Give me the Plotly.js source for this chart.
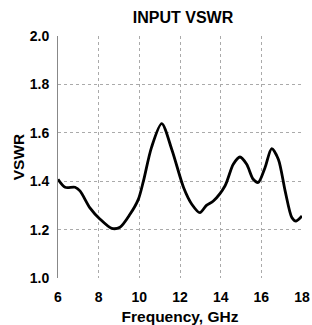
<!DOCTYPE html>
<html><head><meta charset="utf-8">
<script src="https://cdn.plot.ly/plotly-3.0.1.min.js"></script>
<style>html,body{margin:0;padding:0;background:#fff;}</style>
</head><body>
<div id="chart" style="width:312px;height:325px;"></div>
<script>
var freqGHz = [6.0, 6.35, 6.84, 7.08, 7.57, 8.07, 8.64, 9.05, 9.54, 9.95, 10.2, 10.6, 11.1, 11.6, 12.18, 12.58, 12.98, 13.3, 13.64, 14.21, 14.62, 14.95, 15.28, 15.6, 15.85, 16.18, 16.51, 16.84, 17.17, 17.5, 17.7, 18.0];
var vswr = [1.408, 1.375, 1.375, 1.36, 1.29, 1.243, 1.205, 1.21, 1.263, 1.325, 1.40, 1.54, 1.638, 1.53, 1.373, 1.305, 1.27, 1.30, 1.318, 1.38, 1.47, 1.50, 1.47, 1.408, 1.395, 1.456, 1.535, 1.49, 1.36, 1.25, 1.235, 1.256];
var xTicks = [6, 8, 10, 12, 14, 16, 18];
var yTicks = [1.0, 1.2, 1.4, 1.6, 1.8, 2.0];
var yTickText = ['1.0', '1.2', '1.4', '1.6', '1.8', '2.0'];

var fontFam = 'Liberation Sans, Arial, sans-serif';
Plotly.newPlot('chart', [{
  x: freqGHz, y: vswr, type: 'scatter', mode: 'lines',
  line: {color: '#000', width: 2.8, shape: 'spline', smoothing: 0.8},
  hoverinfo: 'skip'
}], {
  width: 312, height: 325,
  margin: {l: 58, r: 10, t: 36, b: 47},
  paper_bgcolor: '#fff', plot_bgcolor: '#fff',
  showlegend: false,
  title: {text: '<b>INPUT VSWR</b>', x: 183/312, xanchor: 'center', xref: 'container',
          y: 1 - 17.5/325, yanchor: 'middle', yref: 'container',
          font: {family: fontFam, size: 16, color: '#000'}},
  xaxis: {
    range: [6, 18], tickvals: xTicks, ticktext: xTicks.map(String),
    showgrid: true, gridcolor: '#aaa', griddash: 'dot', gridwidth: 1,
    zeroline: false, showline: false,
    ticks: 'outside', ticklen: 6, tickcolor: 'rgba(0,0,0,0)',
    tickfont: {family: fontFam, size: 14, color: '#000', weight: 'bold'},
    title: {text: '<b>Frequency, GHz</b>', standoff: 10, font: {family: fontFam, size: 15.5, color: '#000'}}
  },
  yaxis: {
    range: [1.0, 2.0], tickvals: yTicks, ticktext: yTickText,
    showgrid: true, gridcolor: '#aaa', griddash: 'dot', gridwidth: 1,
    zeroline: false, showline: true, linecolor: '#888', linewidth: 1,
    ticks: 'outside', ticklen: 5, tickcolor: 'rgba(0,0,0,0)',
    tickfont: {family: fontFam, size: 14, color: '#000', weight: 'bold'},
    title: {text: '<b>VSWR</b>', standoff: 1, font: {family: fontFam, size: 15.5, color: '#000'}}
  }
}, {staticPlot: true, displayModeBar: false});
</script>
</body></html>
